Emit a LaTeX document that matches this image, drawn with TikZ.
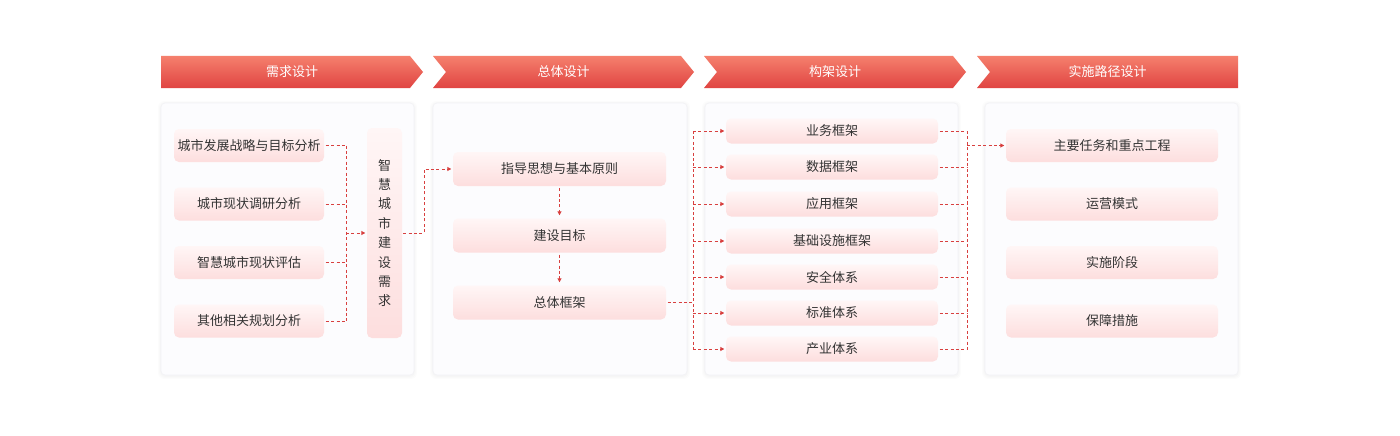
\documentclass[tikz,border=0pt]{standalone}
\usepackage{fontspec}
\setmainfont{Noto Sans CJK SC}
\usetikzlibrary{arrows.meta,calc}
\definecolor{hdtop}{HTML}{F5806D}
\definecolor{hdbot}{HTML}{E04442}
\definecolor{itop}{HTML}{FFF6F6}
\definecolor{ibot}{HTML}{FDDEDE}
\definecolor{txt}{HTML}{333333}
\definecolor{conncol}{HTML}{D8403F}
\definecolor{panelfill}{HTML}{FCFCFE}
\definecolor{paneledge}{HTML}{F3F3F6}
\tikzset{
  header/.style={top color=hdtop, bottom color=hdbot, draw=none},
  htext/.style={text=white, font=\fontsize{13}{15}\selectfont},
  panel/.style={fill=panelfill, draw=paneledge, line width=0.7pt, rounded corners=4pt},
  item/.style={top color=itop, bottom color=ibot, draw=none, rounded corners=5pt,
     text=txt, font=\fontsize{13}{15}\selectfont, inner sep=0pt, anchor=center},
  conn/.style={draw=conncol, line width=0.9pt, dash pattern=on 3pt off 2.4pt},
  arr/.style={conn, -{Triangle[length=4pt,width=4pt]}, shorten >=1.5pt},
}
\begin{document}
\begin{tikzpicture}[x=1pt,y=-1pt]
\useasboundingbox[fill=white] (0,0) rectangle (1400,436);

% headers
\path[header] (161,56) -- (410,56) -- (423,72) -- (410,88) -- (161,88) -- cycle;
\path[header] (433,56) -- (681,56) -- (694,72) -- (681,88) -- (433,88) -- (446,72) -- cycle;
\path[header] (704,56) -- (953,56) -- (966,72) -- (953,88) -- (704,88) -- (717,72) -- cycle;
\path[header] (977,56) -- (1238,56) -- (1238,88) -- (977,88) -- (990,72) -- cycle;
\node[htext] (h1) at (292,72) {需求设计};
\node[htext] (h2) at (563.5,72) {总体设计};
\node[htext] (h3) at (835,72) {构架设计};
\node[htext] (h4) at (1107.5,72) {实施路径设计};

% panel shadows and panels
\foreach \xa/\xb in {161/414, 433/687, 705/958, 985/1238}{
  \foreach \k in {1,2,3}{
    \fill[black, opacity=0.01, rounded corners=6pt] (\xa-\k,103-\k+1) rectangle (\xb+\k,375+\k+1);
  }
  \path[panel] (\xa,103) rectangle (\xb,375);
}

% panel 1
\node[item, minimum width=150pt, minimum height=33pt] (p1a) at (249,145.5) {城市发展战略与目标分析};
\node[item, minimum width=150pt, minimum height=33pt] (p1b) at (249,204) {城市现状调研分析};
\node[item, minimum width=150pt, minimum height=33pt] (p1c) at (249,262.5) {智慧城市现状评估};
\node[item, minimum width=150pt, minimum height=33pt] (p1d) at (249,321) {其他相关规划分析};
\node[item, minimum width=35pt, minimum height=210pt, align=center,
      font=\fontsize{13}{19.4}\selectfont] (need) at (384.5,233)
      {智\\慧\\城\\市\\建\\设\\需\\求};

% panel 2
\node[item, minimum width=213pt, minimum height=34pt] (p2a) at (559.5,169) {指导思想与基本原则};
\node[item, minimum width=213pt, minimum height=34pt] (p2b) at (559.5,235.5) {建设目标};
\node[item, minimum width=213pt, minimum height=34pt] (p2c) at (559.5,302.5) {总体框架};

% panel 3
\node[item, minimum width=212pt, minimum height=25pt] (p3a) at (832,131) {业务框架};
\node[item, minimum width=212pt, minimum height=25pt] (p3b) at (832,167) {数据框架};
\node[item, minimum width=212pt, minimum height=25pt] (p3c) at (832,204) {应用框架};
\node[item, minimum width=212pt, minimum height=25pt] (p3d) at (832,241) {基础设施框架};
\node[item, minimum width=212pt, minimum height=25pt] (p3e) at (832,277) {安全体系};
\node[item, minimum width=212pt, minimum height=25pt] (p3f) at (832,313) {标准体系};
\node[item, minimum width=212pt, minimum height=25pt] (p3g) at (832,349) {产业体系};

% panel 4
\node[item, minimum width=212pt, minimum height=33pt] (p4a) at (1112,145.5) {主要任务和重点工程};
\node[item, minimum width=212pt, minimum height=33pt] (p4b) at (1112,204) {运营模式};
\node[item, minimum width=212pt, minimum height=33pt] (p4c) at (1112,262.5) {实施阶段};
\node[item, minimum width=212pt, minimum height=33pt] (p4d) at (1112,321) {保障措施};

% connectors panel 1
\coordinate (bus1) at (346,233);
\foreach \n in {p1a,p1b,p1c,p1d}{
  \draw[conn] ([xshift=1.5pt]\n.east) -- (\n.east -| bus1);
}
\draw[conn] (p1a.east -| bus1) -- (p1d.east -| bus1);
\draw[arr] (bus1) -- (need.west);

% need -> p2a
\coordinate (c2) at (424,233);
\draw[arr] ([xshift=1pt]need.east) -- (c2) -- (c2 |- p2a.west) -- (p2a.west);

% panel 2 vertical
\draw[arr, shorten <=2pt, shorten >=3pt] (p2a.south) -- (p2b.north);
\draw[arr, shorten <=2pt, shorten >=3pt] (p2b.south) -- (p2c.north);

% p2c -> panel 3
\coordinate (bus3) at (693,302.5);
\draw[conn] ([xshift=1.5pt]p2c.east) -- (bus3);
\draw[conn] (bus3 |- p3a.west) -- (bus3 |- p3g.west);
\foreach \n in {p3a,p3b,p3c,p3d,p3e,p3f,p3g}{
  \draw[arr] (bus3 |- \n.west) -- (\n.west);
}

% panel 3 -> p4a
\coordinate (bus4) at (967,145.5);
\foreach \n in {p3a,p3b,p3c,p3d,p3e,p3f,p3g}{
  \draw[conn] ([xshift=1.5pt]\n.east) -- (\n.east -| bus4);
}
\draw[conn] (bus4 |- p3a.east) -- (bus4 |- p3g.east);
\draw[arr] (bus4) -- (p4a.west);
\end{tikzpicture}
\end{document}
